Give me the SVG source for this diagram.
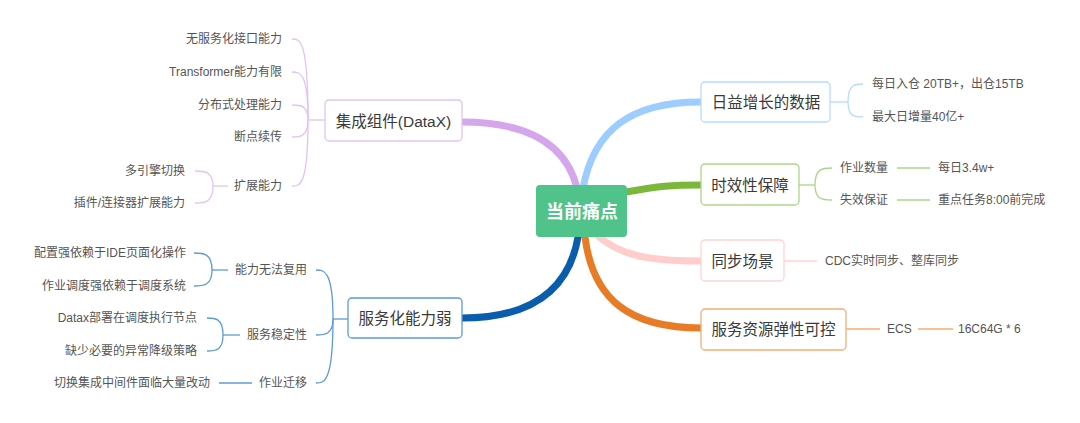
<svg xmlns="http://www.w3.org/2000/svg" width="1080" height="423" viewBox="0 0 1080 423">
<style>
text{font-family:"Liberation Sans","Noto Sans CJK SC",sans-serif;dominant-baseline:central}
.t1{font-size:15.5px;fill:#3a3a3a;text-anchor:middle}
.t2{font-size:12px;fill:#555}
.e{text-anchor:end}
.box{fill:#fff;stroke-width:1.3}
.br{fill:none;stroke-width:7;stroke-linecap:round}
.sub{fill:none;stroke-width:1.3}
.pu{stroke:#e3c2f3}.bl{stroke:#5b9bd5}.lb{stroke:#b7dbff}.gr{stroke:#a9d786}.pk{stroke:#ffd3d3}.or{stroke:#f2ae72}
</style>
<rect width="1080" height="423" fill="#fff"/>
<g id="connectors">
<path class="br" stroke="#d6a6ec" d="M577 188 C565 140 522 122 462 122"/>
<path class="br" stroke="#9dcdff" d="M583 188 C594 130 630 102 701 102"/>
<path class="br" stroke="#7bb83a" d="M626 192 C660 186 670 185 701 185"/>
<path class="br" stroke="#ffcdcd" d="M597 235 C620 256 650 261 701 261"/>
<path class="br" stroke="#e87b26" d="M585 237 C593 300 630 328 701 328"/>
<path class="br" stroke="#0a5cad" d="M578 237 C568 295 525 318 462 318"/>
<g class="sub pu">
<path d="M325 120 H308"/>
<path d="M308 120 C308 39 300 39 292 39"/>
<path d="M308 120 C308 72 300 72 292 72"/>
<path d="M308 120 C308 105 300 105 292 105"/>
<path d="M308 120 C308 137 300 137 292 137"/>
<path d="M308 120 C308 186 300 186 292 186"/>
<path d="M228 186 H213"/>
<path d="M213 186 C213 171 204 171 195 171"/>
<path d="M213 186 C213 203 204 203 195 203"/>
</g>
<g class="sub bl">
<path d="M348 319 H333"/>
<path d="M333 319 C333 270 324 270 316 270"/>
<path d="M333 319 C333 335 324 335 316 335"/>
<path d="M333 319 C333 383 324 383 316 383"/>
<path d="M228 270 H212"/>
<path d="M212 270 C212 253 203 253 194 253"/>
<path d="M212 270 C212 286 203 286 194 286"/>
<path d="M240 335 H223"/>
<path d="M223 335 C223 318 215 318 207 318"/>
<path d="M223 335 C223 351 215 351 207 351"/>
<path d="M252 383 H219"/>
</g>
<g class="sub lb">
<path d="M830 102 H848"/>
<path d="M848 102 C848 84 855 84 863 84"/>
<path d="M848 102 C848 117 855 117 863 117"/>
</g>
<g class="sub gr">
<path d="M799 185 H815"/>
<path d="M815 185 C815 168 823 168 832 168"/>
<path d="M815 185 C815 200 823 200 832 200"/>
<path d="M897 168 H930"/>
<path d="M897 200 H930"/>
</g>
<path class="sub pk" d="M784 261 H817"/>
<g class="sub or">
<path d="M846 329 H880"/>
<path d="M918 329 H953"/>
</g>
</g>
<g id="root">
<rect x="536" y="185" width="91" height="52" rx="4" fill="#50c38b"/>
<text x="582" y="212" style="font-size:18px;font-weight:bold;fill:#fff;text-anchor:middle">当前痛点</text>
</g>
<g id="n-datax">
<rect class="box" stroke="#e3c2f3" x="325" y="100" width="137" height="41" rx="4"/>
<text class="t1" x="393.5" y="121">集成组件(DataX)</text>
</g>
<g id="n-datax-c">
<text class="t2 e" x="282" y="39">无服务化接口能力</text>
<text class="t2 e" x="282" y="72">Transformer能力有限</text>
<text class="t2 e" x="282" y="105">分布式处理能力</text>
<text class="t2 e" x="282" y="137">断点续传</text>
<text class="t2 e" x="282" y="186">扩展能力</text>
<text class="t2 e" x="185" y="171">多引擎切换</text>
<text class="t2 e" x="185" y="203">插件/连接器扩展能力</text>
</g>
<g id="n-service">
<rect class="box" stroke="#5b9bd5" x="348" y="298" width="114" height="40" rx="4"/>
<text class="t1" x="405" y="318">服务化能力弱</text>
</g>
<g id="n-service-c">
<text class="t2 e" x="307" y="270">能力无法复用</text>
<text class="t2 e" x="307" y="335">服务稳定性</text>
<text class="t2 e" x="307" y="383">作业迁移</text>
<text class="t2 e" x="186" y="253">配置强依赖于IDE页面化操作</text>
<text class="t2 e" x="186" y="286">作业调度强依赖于调度系统</text>
<text class="t2 e" x="197" y="318">Datax部署在调度执行节点</text>
<text class="t2 e" x="197" y="351">缺少必要的异常降级策略</text>
<text class="t2 e" x="210" y="383">切换集成中间件面临大量改动</text>
</g>
<g id="n-data">
<rect class="box" stroke="#b7dbff" x="701" y="82" width="129" height="40" rx="4"/>
<text class="t1" x="766" y="102">日益增长的数据</text>
<text class="t2" x="872" y="84">每日入仓 20TB+，出仓15TB</text>
<text class="t2" x="872" y="117">最大日增量40亿+</text>
</g>
<g id="n-time">
<rect class="box" stroke="#a9d786" x="701" y="164" width="98" height="41" rx="4"/>
<text class="t1" x="750" y="185">时效性保障</text>
<text class="t2" x="840" y="168">作业数量</text>
<text class="t2" x="840" y="200">失效保证</text>
<text class="t2" x="938" y="168">每日3.4w+</text>
<text class="t2" x="938" y="200">重点任务8:00前完成</text>
</g>
<g id="n-sync">
<rect class="box" stroke="#ffd3d3" x="701" y="240" width="83" height="41" rx="4"/>
<text class="t1" x="742.5" y="261">同步场景</text>
<text class="t2" x="825" y="261">CDC实时同步、整库同步</text>
</g>
<g id="n-res">
<rect class="box" stroke="#f2ae72" x="701" y="309" width="145" height="41" rx="4"/>
<text class="t1" x="773.5" y="329">服务资源弹性可控</text>
<text class="t2" x="887" y="329">ECS</text>
<text class="t2" x="958" y="329">16C64G * 6</text>
</g>
</svg>
